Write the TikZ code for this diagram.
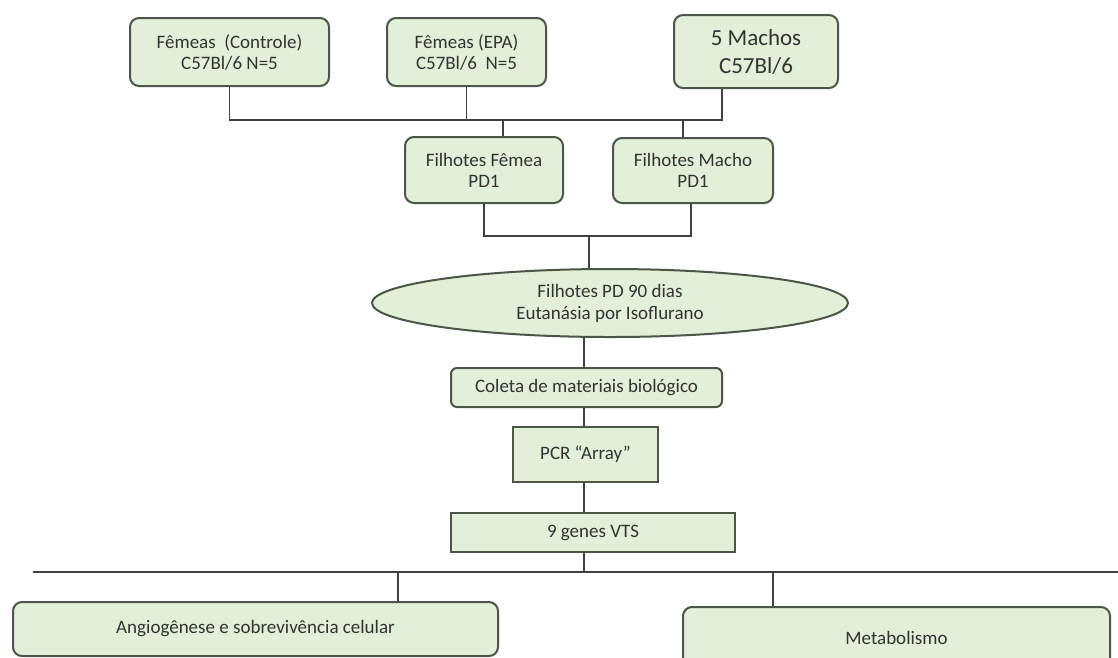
\documentclass[tikz,border=0pt]{standalone}
\usepackage{fontspec}
\setmainfont{Carlito}
\usetikzlibrary{shapes.geometric}
\definecolor{boxfill}{HTML}{E2EFD9}
\definecolor{boxline}{HTML}{4A5748}
\definecolor{connline}{HTML}{404040}
\definecolor{txt}{HTML}{333333}
\begin{document}
\begin{tikzpicture}[x=1pt,y=-1pt,
  rbox/.style={draw=boxline, line width=2pt, fill=boxfill, rounded corners=9pt,
    inner sep=0pt, align=center, text=txt, font=\fontsize{19}{21}\selectfont},
  sbox/.style={draw=boxline, line width=2pt, fill=boxfill,
    inner sep=0pt, align=center, text=txt, font=\fontsize{19}{21}\selectfont},
  ebox/.style={ellipse, draw=boxline, line width=2pt, fill=boxfill,
    inner sep=0pt, align=center, text=txt, font=\fontsize{19}{22}\selectfont},
  conn/.style={draw=connline, line width=1.8pt}]
\useasboundingbox (0,0) rectangle (1118,657);
\fill[white] (0,0) rectangle (1118,657);
\clip (0,0) rectangle (1118,657);

% top row
\node[rbox, minimum width=199, minimum height=68] (b1) at (229.5,52) {Fêmeas\ \ (Controle)\\C57Bl/6 N=5};
\node[rbox, minimum width=159, minimum height=68] (b2) at (466.5,52) {Fêmeas (EPA)\\C57Bl/6\ \ N=5};
\node[rbox, minimum width=164, minimum height=73, font=\fontsize{23}{28}\selectfont] (b3) at (756,51.5) {5 Machos\\C57Bl/6};

% pups
\node[rbox, minimum width=158, minimum height=66] (f1) at (484,170) {Filhotes Fêmea\\PD1};
\node[rbox, minimum width=160, minimum height=65] (f2) at (693,170.5) {Filhotes Macho\\PD1};

% ellipse
\node[ebox, minimum width=476, minimum height=68] (e) at (610,303) {Filhotes PD 90 dias\\Eutanásia por Isoflurano};

% chain
\node[rbox, rounded corners=6pt, minimum width=271, minimum height=39] (c) at (586.5,387.5) {Coleta de materiais biológico};
\node[sbox, minimum width=145, minimum height=55] (p) at (585.5,454.5) {PCR “Array”};
\node[sbox, minimum width=284, minimum height=39] (g) at (593,532.5) {9 genes VTS};

% bottom boxes
\node[rbox, minimum width=485, minimum height=54] (a) at (255.5,629) {Angiogênese e sobrevivência celular};
\node[rbox, minimum width=427, minimum height=62] (m) at (896.5,638) {Metabolismo};

% helper coordinates
\coordinate (top) at (0,120);
\coordinate (mid) at (0,236);
\coordinate (spine) at (584,0);
\coordinate (bl) at (33,572);
\coordinate (br) at (1118,572);

% connectors top
\draw[conn] (b1.south) -- (b1.south |- top) -- ([xshift=-34pt]b3.south |- top) -- ([xshift=-34pt]b3.south);
\draw[conn] (b2.south) -- (b2.south |- top);
\draw[conn] ([xshift=19pt]f1.north |- top) -- ([xshift=19pt]f1.north);
\draw[conn] ([xshift=-10pt]f2.north |- top) -- ([xshift=-10pt]f2.north);

% bracket to ellipse
\draw[conn] (f1.south) -- (f1.south |- mid) -- ([xshift=-2pt]f2.south |- mid) -- ([xshift=-2pt]f2.south);
\draw[conn] ([xshift=-21pt]e.north |- mid) -- ([xshift=-21pt]e.north);

% spine
\draw[conn] (spine |- e.south) -- (spine |- c.north);
\draw[conn] (spine |- c.south) -- (spine |- p.north);
\draw[conn] (spine |- p.south) -- (spine |- g.north);
\draw[conn] (spine |- g.south) -- (spine |- bl);

% bottom branch
\draw[conn] (bl) -- (br);
\draw[conn] ([xshift=142.5pt]a.north |- bl) -- ([xshift=142.5pt]a.north);
\draw[conn] ([xshift=-123.5pt]m.north |- bl) -- ([xshift=-123.5pt]m.north);
\end{tikzpicture}
\end{document}
